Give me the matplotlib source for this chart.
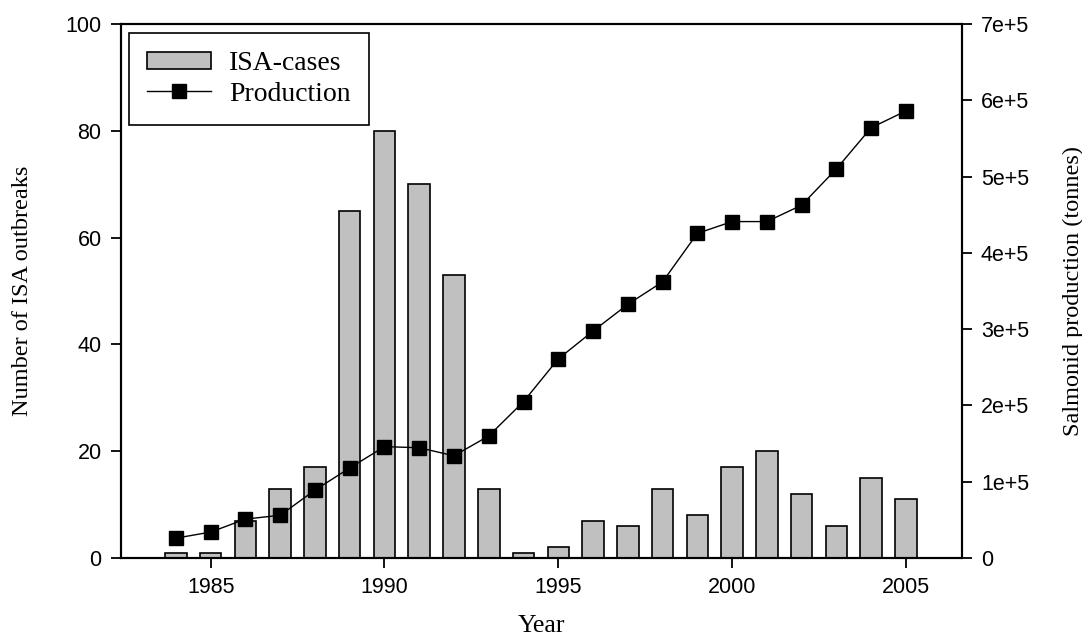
import matplotlib
matplotlib.use("Agg")
import matplotlib.pyplot as plt
from matplotlib.ticker import FixedLocator

years = [1984, 1985, 1986, 1987, 1988, 1989, 1990, 1991, 1992, 1993, 1994,
         1995, 1996, 1997, 1998, 1999, 2000, 2001, 2002, 2003, 2004, 2005]
isa_cases = [1, 1, 7, 13, 17, 65, 80, 70, 53, 13, 1,
             2, 7, 6, 13, 8, 17, 20, 12, 6, 15, 11]
production = [26000, 34000, 51000, 56000, 89000, 118000, 146000, 144500, 134000, 160000, 205000,
              261000, 297500, 332500, 362000, 425500, 441000, 441000, 462500, 510000, 564000, 586000]

x_ticks = [1985, 1990, 1995, 2000, 2005]
left_ticks = [0, 20, 40, 60, 80, 100]
right_ticks = [0, 1e5, 2e5, 3e5, 4e5, 5e5, 6e5, 7e5]
right_labels = ["0", "1e+5", "2e+5", "3e+5", "4e+5", "5e+5", "6e+5", "7e+5"]

SANS = "Liberation Sans"
SERIF = "Liberation Serif"

fig = plt.figure(figsize=(10.82, 6.43), dpi=100)
ax = fig.add_axes([121 / 1082, 1 - 558 / 643, 840.5 / 1082, 534 / 643])
ax2 = ax.twinx()

bars = ax.bar(years, isa_cases, width=0.62, color="#c0c0c0", edgecolor="black",
              linewidth=1.2, label="ISA-cases", zorder=2)
line, = ax2.plot(years, production, color="black", linewidth=1.0, marker="s",
                 markersize=10, markerfacecolor="black", markeredgecolor="black",
                 label="Production", zorder=3)

ax.set_xlim(1982.42, 2006.6)
ax.set_ylim(0, 100)
ax2.set_ylim(0, 7e5)

ax.xaxis.set_major_locator(FixedLocator(x_ticks))
ax.yaxis.set_major_locator(FixedLocator(left_ticks))
ax2.yaxis.set_major_locator(FixedLocator(right_ticks))
ax2.set_yticklabels(right_labels)

for a in (ax, ax2):
    for s in a.spines.values():
        s.set_linewidth(1.5)

ax.tick_params(axis="both", direction="out", length=7, width=1.3, labelsize=15.5, pad=7)
ax2.tick_params(axis="y", direction="out", length=7, width=1.3, labelsize=15.5, pad=7)
for lbl in ax.get_xticklabels() + ax.get_yticklabels() + ax2.get_yticklabels():
    lbl.set_fontfamily(SANS)

ax.set_xlabel("Year", fontfamily=SERIF, fontsize=18.5, labelpad=12)
ax.set_ylabel("Number of ISA outbreaks", fontfamily=SERIF, fontsize=17.5, labelpad=23)
ax2.set_ylabel("Salmonid production (tonnes)", fontfamily=SERIF, fontsize=17.5, labelpad=24)

leg = ax2.legend([bars, line], ["ISA-cases", "Production"], loc="upper left",
                 bbox_to_anchor=(0.0095, 0.983), borderaxespad=0, fancybox=False,
                 framealpha=1, edgecolor="black", prop={"family": SERIF, "size": 20},
                 handlelength=2.3, handleheight=0.6, handletextpad=0.65,
                 borderpad=0.65, labelspacing=0.2)
leg.get_frame().set_linewidth(1.2)

fig.savefig("out.png", dpi=100)
